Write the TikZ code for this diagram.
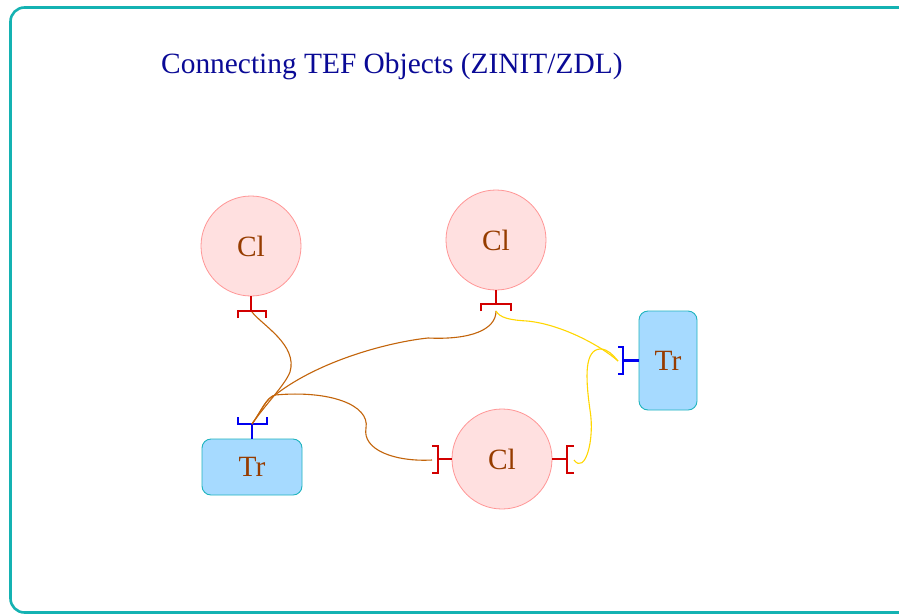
\documentclass[tikz,border=0pt]{standalone}
\usepackage{fontspec}
\setmainfont{Liberation Serif}
\definecolor{frameteal}{RGB}{20,178,178}
\definecolor{titleblue}{RGB}{10,10,150}
\definecolor{clfill}{RGB}{255,224,224}
\definecolor{clborder}{RGB}{255,150,150}
\definecolor{cltext}{RGB}{150,60,0}
\definecolor{trfill}{RGB}{166,218,255}
\definecolor{trborder}{RGB}{30,180,190}
\definecolor{portred}{RGB}{210,0,0}
\definecolor{portblue}{RGB}{0,0,240}
\definecolor{wirebrown}{RGB}{195,100,10}
\definecolor{wireyellow}{RGB}{255,215,0}
\begin{document}
\begin{tikzpicture}[x=1pt,y=-1pt,
  bigfont/.style={font=\fontsize{29.4}{34}\selectfont},
  clnode/.style={circle,draw=clborder,line width=0.8pt,fill=clfill,minimum size=100pt,inner sep=0pt,text=cltext,bigfont},
  trnode/.style={rectangle,rounded corners=9pt,draw=trborder,line width=0.9pt,fill=trfill,inner sep=0pt,text=cltext,bigfont},
  redport/.style={draw=portred,line width=2.9pt},
  blueport/.style={draw=portblue,line width=2.9pt},
  brownwire/.style={draw=wirebrown,line width=1.1pt},
  yellowwire/.style={draw=wireyellow,line width=1.1pt},
  framebox/.style={draw=frameteal,line width=2.6pt,rounded corners=14pt}]
\clip (0,0) rectangle (899,614);
\fill[white] (0,0) rectangle (899,614);
\draw[framebox] (10.5,7.5) rectangle (960,612.5);

\node[bigfont,anchor=base west,inner sep=0pt,text=titleblue] (title) at (161,73) {Connecting TEF Objects (ZINIT/ZDL)};

\node[clnode] (cl1) at (251,246) {Cl};
\node[clnode] (cl2) at (496,240) {Cl};
\node[clnode] (cl3) at (502,459) {Cl};
\node[trnode,minimum width=100pt,minimum height=56pt] (tr1) at (252,467) {Tr};
\node[trnode,minimum width=58pt,minimum height=99pt] (tr2) at (668,360.5) {Tr};

% port points
\coordinate (cl1s) at (251,311);
\coordinate (cl2s) at (496,304);
\coordinate (tr1s) at (252,424);
\coordinate (cl3ls) at (438,459);
\coordinate (cl3rs) at (567,459);
\coordinate (tr2s) at (623,360.5);

% ports
\draw[redport] (cl1.south) -- (cl1s);
\draw[redport] (238,318) -- (238,311) -- (266,311) -- (266,318);
\draw[redport] (cl2.south) -- (cl2s);
\draw[redport] (481,311) -- (481,304) -- (511,304) -- (511,311);
\draw[blueport] (tr1.north) -- (tr1s);
\draw[blueport] (238,417) -- (238,424) -- (267,424) -- (267,417);
\draw[redport] (cl3.west) -- (cl3ls);
\draw[redport] (432,446) -- (438,446) -- (438,473) -- (432,473);
\draw[redport] (cl3.east) -- (cl3rs);
\draw[redport] (574,446) -- (567,446) -- (567,473) -- (574,473);
\draw[blueport] (tr2.west) -- (tr2s);
\draw[blueport] (618,347) -- (623,347) -- (623,374) -- (618,374);

% wire ends
\coordinate (cl1w) at (252,312);
\coordinate (cl2w) at (496,311);
\coordinate (tr1w) at (252,424);
\coordinate (cl3lw) at (432,460);
\coordinate (cl3rw) at (574,460);
\coordinate (tr2w) at (618,361);

\draw[brownwire] (tr1w) .. controls (265,405) and (285,385) .. (290,372) .. controls (298,345) and (262,325) .. (cl1w);
\draw[brownwire] (tr1w) .. controls (262,410) and (266,398) .. (275,395) .. controls (320,360) and (390,342) .. (428,338) .. controls (470,340) and (496,330) .. (cl2w);
\draw[brownwire] (tr1w) .. controls (262,410) and (266,398) .. (275,395) .. controls (330,390) and (370,405) .. (366,428) .. controls (362,450) and (395,462) .. (cl3lw);

\draw[yellowwire] (cl2w) .. controls (500,318) and (510,320) .. (527,321) .. controls (560,324) and (600,345) .. (tr2w);
\draw[yellowwire] (cl3rw) .. controls (585,475) and (595,440) .. (590,410) .. controls (585,375) and (585,350) .. (600,349) .. controls (608,349) and (613,355) .. (tr2w);
\end{tikzpicture}
\end{document}
